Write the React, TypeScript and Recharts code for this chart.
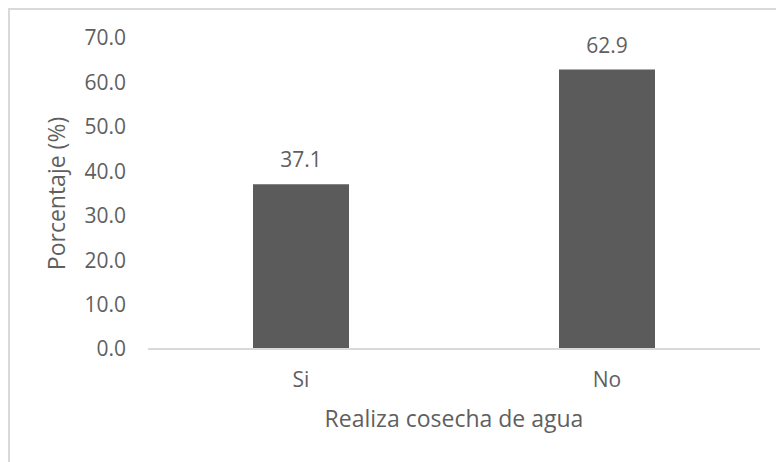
import React from "react";
import { BarChart, Bar, XAxis, YAxis, LabelList } from "recharts";

const categories = ["Si", "No"];
const percentages = [37.1, 62.9];
const yTicks = [0, 10, 20, 30, 40, 50, 60, 70];

const data = categories.map((c, i) => ({ name: c, value: percentages[i] }));

const FONT = "'Open Sans', sans-serif";
const TEXT = "#5f5f5f";

export default function App() {
  return (
    <div
      style={{
        position: "absolute",
        left: 8,
        top: 8,
        width: 768,
        height: 454,
        boxSizing: "border-box",
        borderTop: "2px solid #d9d9d9",
        borderLeft: "2px solid #d9d9d9",
        overflow: "hidden",
        background: "#fff",
      }}
    >
      <BarChart
        width={766}
        height={452}
        data={data}
        margin={{ top: 28, right: 16, left: 0, bottom: 0 }}
        style={{ fontFamily: FONT }}
      >
        <XAxis
          dataKey="name"
          height={113}
          tickLine={false}
          tickSize={0}
          tickMargin={23}
          axisLine={{ stroke: "#d9d9d9", strokeWidth: 2 }}
          tick={{ fill: TEXT, fontSize: 21, fontFamily: FONT }}
          label={{
            value: "Realiza cosecha de agua",
            position: "insideBottom",
            offset: 35,
            fill: TEXT,
            fontSize: 23,
            fontFamily: FONT,
          }}
        />
        <YAxis
          width={138}
          domain={[0, 70]}
          ticks={yTicks}
          interval={0}
          tickLine={false}
          axisLine={false}
          tickSize={0}
          tickMargin={22}
          tickFormatter={(v: number) => v.toFixed(1)}
          tick={{ fill: TEXT, fontSize: 21, fontFamily: FONT }}
          label={{
            value: "Porcentaje (%)",
            angle: -90,
            position: "insideLeft",
            offset: 47,
            fill: TEXT,
            fontSize: 23,
            fontFamily: FONT,
            style: { textAnchor: "middle" },
          }}
        />
        <Bar dataKey="value" fill="#5b5b5b" barSize={96} isAnimationActive={false}>
          <LabelList
            dataKey="value"
            position="top"
            offset={17}
            formatter={(v: number) => v.toFixed(1)}
            fill={TEXT}
            fontSize={21}
            fontFamily={FONT}
          />
        </Bar>
      </BarChart>
    </div>
  );
}
